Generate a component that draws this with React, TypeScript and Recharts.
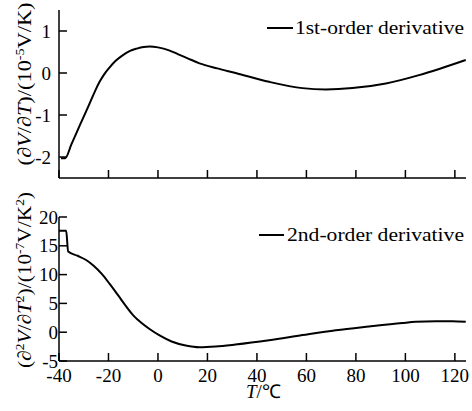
import { LineChart, Line, XAxis, YAxis, Customized } from 'recharts'

// first derivative, 10^-5 V/K
const t1 = [-39.2, -37.5, -35, -32, -29, -27, -25.2, -23.6, -21.6, -19.6, -17.1, -14.3, -11.5, -8.6, -5.8, -3.4, 0, 4.5, 8, 12, 16.8, 24, 31.4, 44.9, 58.4, 67.8, 78.6, 92.1, 105.5, 124.4]
const d1 = [-2.03, -2.03, -1.7, -1.3, -0.91, -0.64, -0.4, -0.21, -0.02, 0.13, 0.29, 0.42, 0.52, 0.58, 0.62, 0.63, 0.61, 0.54, 0.45, 0.35, 0.23, 0.11, 0.0, -0.21, -0.36, -0.39, -0.36, -0.25, -0.05, 0.31]

// second derivative, 10^-7 V/K^2
const t2 = [-40, -37.1, -36.3, -32.5, -29.2, -26, -22.8, -19.6, -16.3, -13.1, -9.9, -6.6, -3.4, 0.65, 5.5, 11.2, 16.8, 23.3, 31.3, 44.9, 58.4, 71.9, 85.3, 98.8, 104.2, 112.3, 119, 124.4]
const d2 = [17.6, 17.6, 14.0, 13.27, 12.58, 11.54, 10.16, 8.43, 6.52, 4.62, 2.89, 1.59, 0.55, -0.57, -1.61, -2.3, -2.6, -2.48, -2.14, -1.4, -0.5, 0.35, 1.0, 1.6, 1.8, 1.9, 1.9, 1.8]

const xTicks = [-40, -20, 0, 20, 40, 60, 80, 100, 120]
const y1Ticks = [-2, -1, 0, 1]
const y2Ticks = [-5, 0, 5, 10, 15, 20]

const xDomain = [-40, 124.5]
const serif = 'Liberation Serif'
const TICK = 8

function XTick({ x, y, payload, showLabel }: any) {
  return (
    <g>
      <line x1={x} x2={x} y1={y} y2={y - TICK} stroke="#000" strokeWidth={1.5} />
      {showLabel && (
        <text x={x} y={y + 21} textAnchor="middle" fontFamily={serif} fontSize={19} fill="#000">
          {payload.value}
        </text>
      )}
    </g>
  )
}

function YTick({ x, y, payload, gap }: any) {
  return (
    <g>
      <line x1={x} x2={x + TICK} y1={y} y2={y} stroke="#000" strokeWidth={1.5} />
      <text x={x - gap} y={y + 6.5} textAnchor="end" fontFamily={serif} fontSize={19} fill="#000">
        {payload.value}
      </text>
    </g>
  )
}

function LegendMark({ x1, x2, y, tx, label, len }: any) {
  return (
    <g>
      <line x1={x1} x2={x2} y1={y} y2={y} stroke="#000" strokeWidth={2} />
      <text x={tx} y={y + 6} fontFamily={serif} fontSize={18} fill="#000" textLength={len} lengthAdjust="spacingAndGlyphs">
        {label}
      </text>
    </g>
  )
}

export default function App() {
  const data1 = t1.map((t, i) => ({ t, v: d1[i] }))
  const data2 = t2.map((t, i) => ({ t, v: d2[i] }))
  const axisLine = { stroke: '#000', strokeWidth: 1.5 }

  return (
    <div style={{ position: 'absolute', left: 0, top: 0, width: 472, height: 411, background: '#fff', fontFamily: serif }}>
      <div style={{ position: 'absolute', left: 0, top: 0 }}>
        <LineChart width={472} height={190} data={data1} margin={{ top: 10, right: 6, left: 0, bottom: 0 }}>
          <XAxis dataKey="t" type="number" domain={xDomain} ticks={xTicks} allowDataOverflow height={12}
            axisLine={axisLine} tickLine={false} tickSize={0} tickMargin={0}
            tick={<XTick showLabel={false} />} />
          <XAxis xAxisId="top" orientation="top" type="number" domain={xDomain} height={0} axisLine={axisLine} tick={false} tickLine={false} />
          <YAxis type="number" domain={[-2.5, 1.5]} ticks={y1Ticks} width={59}
            axisLine={axisLine} tickLine={false} tickSize={0} tickMargin={0}
            tick={<YTick gap={8} />}
            label={{
              content: () => (
                <text transform="translate(31,84) rotate(-90)" textAnchor="middle" fontFamily={serif} fontSize={19} fill="#000" textLength={163} lengthAdjust="spacingAndGlyphs">
                  (∂<tspan fontStyle="italic">V</tspan>/∂<tspan fontStyle="italic">T</tspan>)/(10<tspan fontSize={12} dy={-7}>-5</tspan><tspan dy={7}>V/K)</tspan>
                </text>
              ),
            }} />
          <YAxis yAxisId="right" orientation="right" type="number" domain={[-2.5, 1.5]} width={0} axisLine={axisLine} tick={false} tickLine={false} />
          <Line dataKey="v" type="monotone" stroke="#000" strokeWidth={2} dot={false} isAnimationActive={false} />
          <Customized component={() => (
            <LegendMark x1={267} x2={293} y={28} tx={295} label="1st-order derivative" len={169} />
          )} />
        </LineChart>
      </div>
      <div style={{ position: 'absolute', left: 0, top: 185 }}>
        <LineChart width={472} height={226} data={data2} margin={{ top: 32, right: 6, left: 0, bottom: 0 }}>
          <XAxis dataKey="t" type="number" domain={xDomain} ticks={xTicks} allowDataOverflow height={50}
            axisLine={axisLine} tickLine={false} tickSize={0} tickMargin={0}
            tick={<XTick showLabel />}
            label={{
              content: () => (
                <text x={246} y={213} fontFamily={serif} fontSize={19} fill="#000">
                  <tspan fontStyle="italic">T</tspan>/℃
                </text>
              ),
            }} />
          <XAxis xAxisId="top" orientation="top" type="number" domain={xDomain} height={0} axisLine={axisLine} tick={false} tickLine={false} />
          <YAxis type="number" domain={[-5, 20]} ticks={y2Ticks} width={59}
            axisLine={axisLine} tickLine={false} tickSize={0} tickMargin={0}
            tick={<YTick gap={1} />}
            label={{
              content: () => (
                <text transform="translate(31,95) rotate(-90)" textAnchor="middle" fontFamily={serif} fontSize={19} fill="#000" textLength={176} lengthAdjust="spacingAndGlyphs">
                  (∂<tspan fontSize={12} dy={-7}>2</tspan><tspan dy={7} fontStyle="italic">V</tspan>/∂<tspan fontStyle="italic">T</tspan><tspan fontSize={12} dy={-7}>2</tspan><tspan dy={7}>)/(10</tspan><tspan fontSize={12} dy={-7}>-7</tspan><tspan dy={7}>V/K</tspan><tspan fontSize={12} dy={-7}>2</tspan><tspan dy={7}>)</tspan>
                </text>
              ),
            }} />
          <YAxis yAxisId="right" orientation="right" type="number" domain={[-5, 20]} width={0} axisLine={axisLine} tick={false} tickLine={false} />
          <Line dataKey="v" type="monotone" stroke="#000" strokeWidth={2} dot={false} isAnimationActive={false} />
          <Customized component={() => (
            <LegendMark x1={259} x2={284} y={50} tx={287} label="2nd-order derivative" len={177} />
          )} />
        </LineChart>
      </div>
    </div>
  )
}
